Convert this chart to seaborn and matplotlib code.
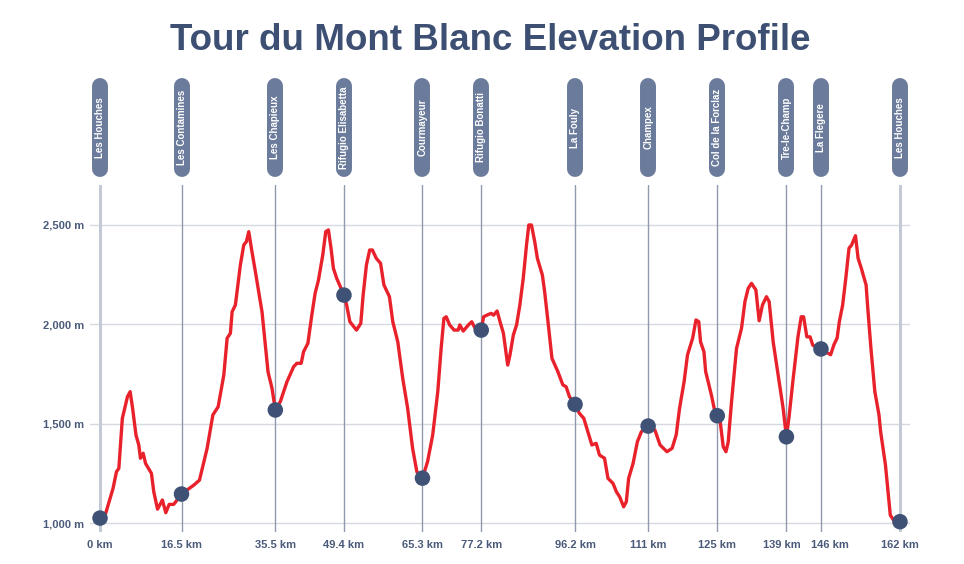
import matplotlib
matplotlib.use("Agg")
import matplotlib.pyplot as plt
import seaborn as sns
import pandas as pd
from matplotlib.transforms import blended_transform_factory, ScaledTranslation
from matplotlib.ticker import FuncFormatter

# ---------------- data ----------------
distance_km = [0, 1.04, 2.64, 3.33, 3.81, 4.52, 5.56, 6.10, 6.60, 7.28, 7.85, 8.18, 8.74, 9.22,
               10.41, 10.88, 11.65, 12.63, 13.32, 14.0, 14.92, 15.61, 16.5,
               19.0, 20.14, 21.69, 22.85, 23.92, 25.07, 25.74, 26.40, 26.75, 27.41, 28.42, 29.11,
               29.64, 30.12, 30.65, 31.46, 32.81, 34.02, 34.83, 35.5,
               36.51, 37.86, 39.21, 39.87, 40.74, 41.22, 42.09, 42.89, 43.56, 44.24, 45.11, 45.71,
               46.25, 46.78, 47.26, 47.92, 49.4,
               49.94, 50.60, 51.94, 52.81, 53.29, 53.95, 54.61, 55.15, 55.95, 56.81, 57.49, 58.61,
               59.29, 60.30, 61.30, 62.30, 63.30, 64.16, 65.3,
               66.33, 67.37, 68.40, 69.08, 69.64, 70.11, 70.80, 71.70, 72.53, 72.86, 73.56, 74.60,
               75.28, 75.96, 77.2,
               77.68, 78.68, 79.21, 79.69, 80.41, 81.01, 81.69, 82.56, 83.02, 83.70, 84.36, 85.02,
               85.71, 86.37, 86.83, 87.37, 88.03, 88.57, 89.58, 90.04, 90.72, 91.52, 92.73, 93.73,
               94.39, 95.06, 96.2,
               97.08, 97.97, 98.79, 99.60, 100.48, 101.15, 102.17, 102.86, 103.88, 104.56, 105.23,
               106.04, 106.58, 107.05, 107.95, 108.82, 109.64, 111.0,
               112.37, 113.41, 114.81, 115.85, 116.68, 117.36, 118.28, 118.97, 120.01, 120.69,
               121.25, 121.61, 122.30, 122.65, 123.81, 124.52, 125.0,
               125.55, 126.21, 126.76, 127.22, 127.89, 128.90, 129.91, 130.60, 131.26, 131.93,
               132.82, 133.48, 134.15, 134.96, 135.51, 136.32, 137.33, 138.34, 139.0,
               139.54, 140.34, 141.34, 142.0, 142.48, 143.14, 143.8, 144.34, 146.0,
               147.31, 147.96, 148.62, 149.27, 149.72, 150.39, 151.03, 151.68, 152.21, 152.99,
               153.52, 154.17, 155.14, 155.48, 156.12, 156.91, 157.75, 158.08, 159.06, 159.71,
               160.04, 161.35, 162.0]

elevation_m = [1025, 1040, 1175, 1258, 1275, 1527, 1636, 1661, 1577, 1443, 1393, 1326, 1351, 1300,
               1250, 1158, 1070, 1116, 1052, 1094, 1094, 1116, 1146,
               1191, 1216, 1376, 1544, 1585, 1745, 1930, 1955, 2063, 2097, 2299, 2399,
               2416, 2466, 2383, 2265, 2062, 1761, 1678, 1569,
               1611, 1711, 1787, 1804, 1804, 1862, 1904, 2047, 2156, 2223, 2349, 2466,
               2475, 2383, 2282, 2232, 2147,
               2097, 2013, 1971, 2005, 2148, 2299, 2374, 2374, 2332, 2307, 2198, 2139,
               2013, 1912, 1728, 1577, 1376, 1258, 1226,
               1309, 1443, 1661, 1879, 2030, 2038, 1997, 1971, 1971, 1997, 1966, 1997,
               2013, 1980, 1971,
               2038, 2050, 2055, 2046, 2067, 2013, 1955, 1795, 1846, 1946, 1997, 2097,
               2232, 2399, 2500, 2500, 2416, 2332, 2248, 2164, 2013, 1829, 1761, 1695,
               1686, 1636, 1597,
               1552, 1527, 1460, 1393, 1401, 1342, 1326, 1225, 1200, 1158, 1132,
               1082, 1107, 1225, 1300, 1409, 1460, 1488,
               1468, 1393, 1359, 1376, 1443, 1577, 1711, 1846, 1930, 2022,
               2013, 1912, 1862, 1762, 1644, 1560, 1540,
               1519, 1384, 1359, 1409, 1611, 1879, 1980, 2114, 2181, 2206,
               2173, 2018, 2097, 2139, 2114, 1912, 1745, 1577, 1434,
               1535, 1720, 1937, 2038, 2038, 1937, 1937, 1895, 1876,
               1856, 1847, 1897, 1931, 2013, 2097, 2232, 2383, 2399, 2446,
               2332, 2282, 2198, 2081, 1879, 1661, 1544, 1460, 1292, 1124,
               1040, 990, 1007]

waypoint_names = ["Les Houches", "Les Contamines", "Les Chapieux", "Rifugio Elisabetta",
                  "Courmayeur", "Rifugio Bonatti", "La Fouly", "Champex", "Col de la Forclaz",
                  "Tre-le-Champ", "La Flegere", "Les Houches"]
waypoint_km = [0, 16.5, 35.5, 49.4, 65.3, 77.2, 96.2, 111, 125, 139, 146, 162]
waypoint_elev = [1025, 1146, 1569, 2147, 1226, 1971, 1597, 1488, 1540, 1434, 1876, 1007]
waypoint_tick_labels = ["0 km", "16.5 km", "35.5 km", "49.4 km", "65.3 km", "77.2 km",
                        "96.2 km", "111 km", "125 km", "139 km", "146 km", "162 km"]
elevation_ticks = [1000, 1500, 2000, 2500]

profile_df = pd.DataFrame({"km": distance_km, "elev": elevation_m})
wp_df = pd.DataFrame({"name": waypoint_names, "km": waypoint_km, "elev": waypoint_elev})

# ---------------- style ----------------
sns.set_theme(style="white")
plt.rcParams["font.family"] = ["Liberation Sans", "DejaVu Sans"]

TEXT_COL = "#4a5a7a"
TITLE_COL = "#3d5073"
LINE_COL = "#e8212b"
MARK_COL = "#3f5276"
PILL_COL = "#6b7b9b"

fig = plt.figure(figsize=(9.64, 5.64), dpi=100)
ax = fig.add_axes([90 / 964, 32 / 564, 820 / 964, 347 / 564])
ax.set_xlim(-2.03, 164.03)
ax.set_ylim(955, 2701)

# grid
for y in elevation_ticks:
    ax.axhline(y, color="#d6d9df", lw=1, zorder=1)
for i, km in enumerate(waypoint_km):
    if i == 0 or i == len(waypoint_km) - 1:
        ax.axvline(km, color="#c3c9d5", lw=2.2, zorder=1.5)
    else:
        ax.axvline(km, color="#8f99ae", lw=1.0, zorder=1.5)

# profile and waypoints
sns.lineplot(data=profile_df, x="km", y="elev", color=LINE_COL, linewidth=2.4,
             sort=False, estimator=None, ax=ax, zorder=3,
             solid_joinstyle="round", solid_capstyle="round")
sns.scatterplot(data=wp_df, x="km", y="elev", s=125, color=MARK_COL,
                edgecolor="none", linewidth=0, ax=ax, zorder=4)

# ticks
ax.set_xticks(waypoint_km)
ax.set_xticklabels(waypoint_tick_labels)
ax.set_yticks(elevation_ticks)
ax.yaxis.set_major_formatter(FuncFormatter(lambda v, p: f"{int(v):,} m"))
ax.tick_params(axis="both", length=0, labelsize=8, labelcolor=TEXT_COL)
ax.tick_params(axis="x", pad=6)
ax.tick_params(axis="y", pad=4)
for lab in ax.get_xticklabels() + ax.get_yticklabels():
    lab.set_fontweight("bold")
ax.set_xlabel("")
ax.set_ylabel("")
for s in ax.spines.values():
    s.set_visible(False)

# nudge the two crowded labels apart (as in the reference)
xlabels = ax.get_xticklabels()
for idx, dx_px in ((9, -4.5), (10, 9.0)):
    lab = xlabels[idx]
    lab.set_transform(lab.get_transform() + ScaledTranslation(dx_px / 100, 0, fig.dpi_scale_trans))

# waypoint pills
trans = blended_transform_factory(ax.transData, fig.transFigure)
for name, km in zip(waypoint_names, waypoint_km):
    ax.plot([km, km], [1 - 86 / 564, 1 - 169 / 564], transform=trans, lw=11.5,
            color=PILL_COL, solid_capstyle="round", clip_on=False, zorder=5)
    ax.text(km, 1 - 127.5 / 564, name, transform=trans, rotation=90, ha="center",
            va="center", color="white", fontsize=7, fontweight="bold", clip_on=False,
            zorder=6)

fig.text(0.5085, 1 - 40 / 564, "Tour du Mont Blanc Elevation Profile", ha="center",
         va="center", fontsize=26.5, fontweight="bold", color=TITLE_COL)

fig.savefig("out.png", dpi=100)
